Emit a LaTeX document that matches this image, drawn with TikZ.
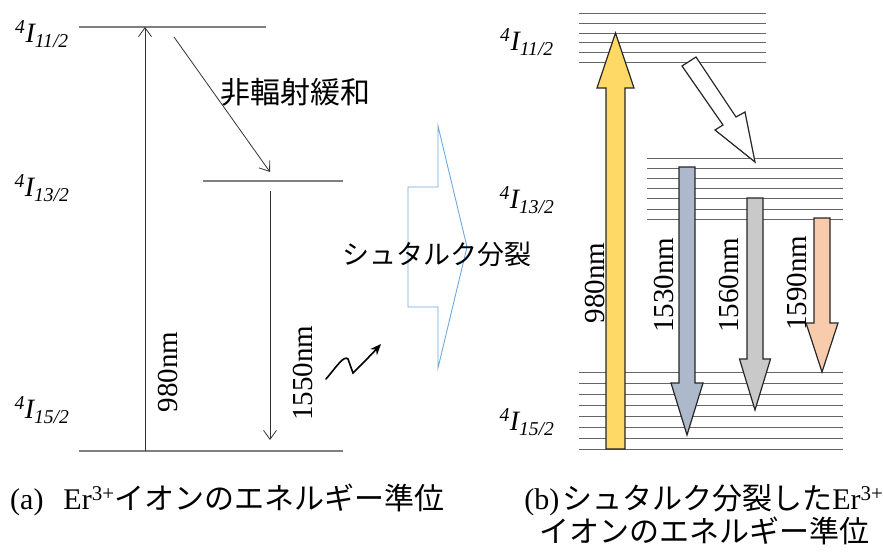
\documentclass[tikz,border=0pt]{standalone}
\usepackage{fontspec}
\setmainfont{Liberation Serif}
\newfontfamily\jpfont{Noto Sans CJK JP}
\usetikzlibrary{arrows.meta, positioning}
\definecolor{levelgray}{HTML}{7F7F7F}
\definecolor{pumpyellow}{HTML}{FFD966}
\definecolor{bluegray}{HTML}{ADB9CA}
\definecolor{midgray}{HTML}{C9C9C9}
\definecolor{peach}{HTML}{F8CBAD}
\definecolor{splitblue}{HTML}{6FA8DC}
\tikzset{
    level/.style={draw=levelgray, line width=1.2pt},
    sublevel/.style={draw=black!60, line width=0.9pt},
    arrow/.style={-{Straight Barb[length=9pt,width=13pt]}, draw=black!80, line width=0.8pt},
    wavy/.style={-{Stealth[length=11pt,width=9pt]}, line width=1.6pt, line cap=round},
    fatarrow/.style={draw=black!85, line width=1.2pt, line join=miter},
    splitarrow/.style={draw=splitblue, line width=0.9pt},
    wavelabel/.style={rotate=90, inner sep=0pt, font=\fontsize{29}{30}\selectfont},
    termlabel/.style={inner sep=0pt, font=\fontsize{28}{30}\selectfont\itshape},
    jplabel/.style={inner sep=0pt, font=\jpfont\fontsize{30}{34}\selectfont},
    caption/.style={inner sep=0pt, align=center, font=\fontsize{30}{31}\selectfont}
}
\begin{document}
\begin{tikzpicture}[x=1pt, y=-1pt]
    \useasboundingbox (0,0) rectangle (883,552);
    % (a) levels
    \draw [level] (79,27) -- (266,27);
    \draw [level] (203,181) -- (343,181);
    \draw [level] (79,451) -- (343,451);
    \node [termlabel] (a11) at (42,34) {\textsuperscript{4}I\textsubscript{11/2}};
    \node [termlabel] (a13) at (42,188) {\textsuperscript{4}I\textsubscript{13/2}};
    \node [termlabel] (a15) at (42,410) {\textsuperscript{4}I\textsubscript{15/2}};
    % (a) transitions
    \coordinate (pumpA0) at (145,451);
    \coordinate (pumpA1) at (145,27);
    \coordinate (relaxA0) at (174,37);
    \coordinate (relaxA1) at (270,172);
    \coordinate (emitA0) at (270,191);
    \coordinate (emitA1) at (270,440);
    \draw [arrow] (pumpA0) -- (pumpA1);
    \draw [arrow] (relaxA0) -- (relaxA1);
    \draw [arrow] (emitA0) -- (emitA1);
    \node [wavelabel] (pumpAlabel) at (168,372) {980nm};
    \node [wavelabel] (emitAlabel) at (303,373) {1550nm};
    \node [jplabel] (relaxlabel) at (295,92) {非輻射緩和};
    \coordinate (waveA0) at (326,379);
    \coordinate (waveA1) at (381,344);
    \draw [wavy] (waveA0) .. controls (337,366) and (344,355) .. (348,359) -- (353,373) .. controls (360,366) and (371,355) .. (waveA1);
    % splitting arrow
    \draw [splitarrow] (408,187) -- (438,187) -- (438,126) -- (467,247) -- (438,368) -- (438,307) -- (408,307) -- cycle;
    \node [inner sep=0pt, font=\jpfont\fontsize{27}{30}\selectfont] (starklabel) at (437,254) {シュタルク分裂};
    % (b) Stark sublevels
    \foreach \y in {0,...,5}
        \draw [sublevel] (579,{13.5+9.8*\y}) -- (766,{13.5+9.8*\y});
    \foreach \y in {0,...,6}
        \draw [sublevel] (647,{158.7+10.05*\y}) -- (843,{158.7+10.05*\y});
    \foreach \y in {0,...,7}
        \draw [sublevel] (579,{372.7+10.95*\y}) -- (843,{372.7+10.95*\y});
    \node [termlabel] (b11) at (527,42) {\textsuperscript{4}I\textsubscript{11/2}};
    \node [termlabel] (b13) at (527,200) {\textsuperscript{4}I\textsubscript{13/2}};
    \node [termlabel] (b15) at (527,422) {\textsuperscript{4}I\textsubscript{15/2}};
    % (b) block arrows
    \draw [fatarrow, fill=pumpyellow] (606,449) -- (606,88) -- (597,88) -- (615.5,33) -- (634,88) -- (625,88) -- (625,449) -- cycle;
    \draw [fatarrow, fill=white] (682,66) -- (696,57) -- (736,117) -- (745,112) -- (755,162) -- (715,130) -- (723,125) -- cycle;
    \draw [fatarrow, fill=bluegray] (679,167) -- (695,167) -- (695,383) -- (703,383) -- (687,435) -- (671,383) -- (679,383) -- cycle;
    \draw [fatarrow, fill=midgray] (747,198) -- (763,198) -- (763,359) -- (770.5,359) -- (755,410) -- (739.5,359) -- (747,359) -- cycle;
    \draw [fatarrow, fill=peach] (814,218) -- (830,218) -- (830,323) -- (838,323) -- (822,372) -- (806,323) -- (814,323) -- cycle;
    \node [wavelabel] (pumpBlabel) at (594.5,283) {980nm};
    \node [wavelabel] (emit1label) at (663.5,285) {1530nm};
    \node [wavelabel] (emit2label) at (729,285) {1560nm};
    \node [wavelabel] (emit3label) at (796.5,283) {1590nm};
    % captions
    \node [caption, anchor=west] (capA) at (10,500) {(a)\hspace{20pt}Er\textsuperscript{3+}{\jpfont イオンのエネルギー準位}};
    \node [caption] (capB) at (704,515) {(b)\hspace{3pt}{\jpfont シュタルク分裂した}Er\textsuperscript{3+}\\{\jpfont イオンのエネルギー準位}};
\end{tikzpicture}
\end{document}
